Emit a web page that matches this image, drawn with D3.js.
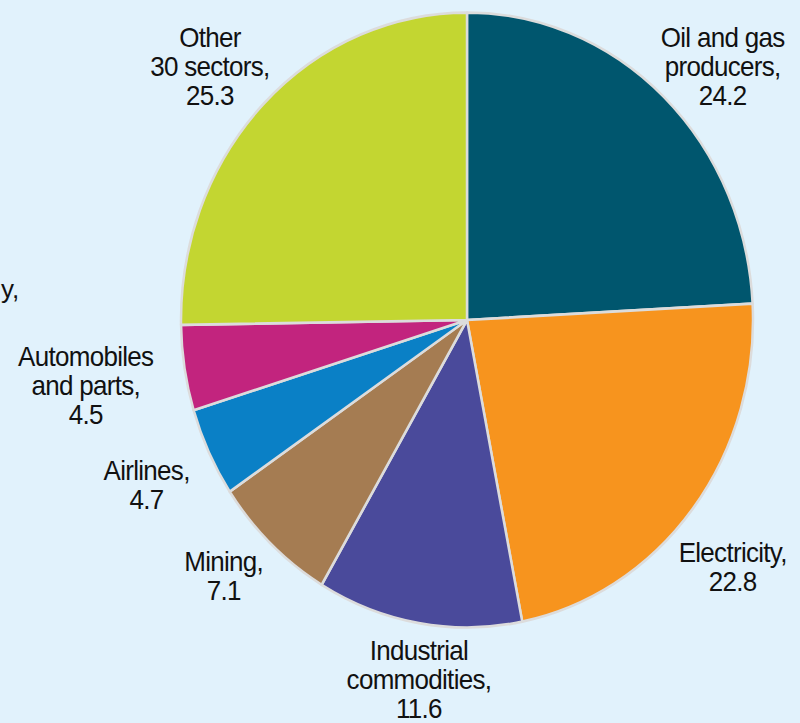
<!DOCTYPE html>
<html>
<head>
<meta charset="utf-8">
<script src="https://cdn.jsdelivr.net/npm/d3@7"></script>
<style>
  html, body { margin: 0; padding: 0; background: #e1f2fc; }
  svg { display: block; }
</style>
</head>
<body>
<div id="chart"></div>
<script>
// sector shares, clockwise from 12 o'clock
let sectors = ["Oil and gas producers", "Electricity", "Industrial commodities", "Mining", "Airlines", "Automobiles and parts", "Other 30 sectors"];
let values = [24.2, 22.8, 11.6, 7.1, 4.7, 4.5, 25.3];
let colors = ["#00566e", "#f7941e", "#4a4a9b", "#a57c52", "#0a80c6", "#c2247e", "#c3d631"];
let labelLines = [
    ["Oil and gas", "producers,", "24.2"],
    ["Electricity,", "22.8"],
    ["Industrial", "commodities,", "11.6"],
    ["Mining,", "7.1"],
    ["Airlines,", "4.7"],
    ["Automobiles", "and parts,", "4.5"],
    ["Other", "30 sectors,", "25.3"]
];
// label placement: distance from centre and turn (degrees) from the slice middle
let labelRadius = [348, 351, 337, 340, 355, 386, 349];
let labelTurn = [3.8, 2.9, -1.5, 2.4, 0, 0, -2];

let width = 800, height = 723;
let cx = 467, cy = 320,
    r = 286,
    ky = 1.075;   // chart is a bit taller than wide
let lineH = 27;

const svg = d3.select("#chart")
    .append("svg")
    .attr("width", width)
    .attr("height", height)
    .style("background", "#e1f2fc");

const g = svg.append("g")
    .attr("transform", `translate(${cx},${cy}) scale(1,${ky})`);

let data = values.map((v, i) => ({ name: sectors[i], value: v, i: i }));

let pie = d3.pie()
    .value(d => d.value)
    .sort(null);

let arc = d3.arc()
    .innerRadius(0)
    .outerRadius(r);

let arcs = pie(data);

g.selectAll("path")
    .data(arcs)
    .join("path")
    .attr("d", arc)
    .attr("fill", d => colors[d.data.i])
    .attr("stroke", "#dcdcdc")
    .attr("stroke-width", 2.5)
    .attr("stroke-linejoin", "round");

const labels = g.append("g")
    .style("font-family", "'Liberation Sans', Arial, sans-serif")
    .style("font-size", "26px")
    .style("letter-spacing", "-0.7px")
    .attr("fill", "#111")
    .attr("text-anchor", "middle")
    .selectAll("text")
    .data(arcs)
    .join("text")
    .attr("transform", d => {
        let a = (d.startAngle + d.endAngle) / 2 + labelTurn[d.data.i] * Math.PI / 180;
        let lr = labelRadius[d.data.i];
        return `translate(${lr * Math.sin(a)},${-lr * Math.cos(a)})`;
    });

labels.each(function(d) {
    let lines = labelLines[d.data.i];
    let t = d3.select(this);
    lines.forEach((s, k) => {
        t.append("tspan")
            .attr("x", 0)
            .attr("y", (k - (lines.length - 1) / 2) * lineH)
            .attr("dy", "0.36em")
            .text(s);
    });
});

// fragment of a label cut off at the left edge
svg.append("text")
    .attr("x", 1)
    .attr("y", 298)
    .style("font-family", "'Liberation Sans', Arial, sans-serif")
    .style("font-size", "26px")
    .attr("fill", "#111")
    .text("y,");
</script>
</body>
</html>
